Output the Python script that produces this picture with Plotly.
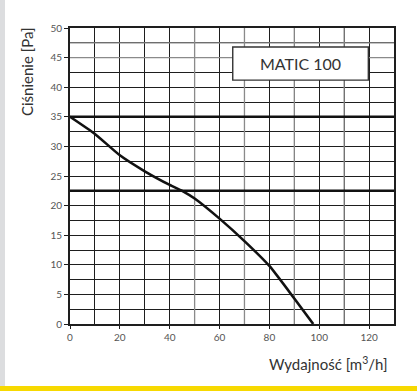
import plotly.graph_objects as go

# Data
flow = [0, 10, 20, 30, 40, 45, 50, 60, 70, 80, 90, 97.6]
pressure = [35, 32.1, 28.5, 25.8, 23.5, 22.5, 21.2, 17.8, 14.0, 9.8, 4.3, 0]

x_ticks = [0, 20, 40, 60, 80, 100, 120]
y_ticks = [0, 5, 10, 15, 20, 25, 30, 35, 40, 45, 50]
gray_vlines = [50, 70, 90, 110]
gray_hlines = [47.5, 45]
thick_hlines = [35, 22.5]
label_box = dict(x0=65.3, x1=119.7, y0=41.2, y1=46.8, text="MATIC 100")

FONT = "Lato, 'Noto Sans', sans-serif"

fig = go.Figure()
fig.add_trace(go.Scatter(
    x=flow, y=pressure, mode="lines",
    line=dict(color="#111111", width=2.6, shape="spline", smoothing=0.5),
    hoverinfo="skip", showlegend=False))

shapes = []
for v in gray_vlines:
    shapes.append(dict(type="line", xref="x", yref="y", x0=v, x1=v, y0=0, y1=50,
                       line=dict(color="#8a8a8a", width=1.3), layer="between"))
for h in gray_hlines:
    shapes.append(dict(type="line", xref="x", yref="y", x0=0, x1=130, y0=h, y1=h,
                       line=dict(color="#8a8a8a", width=1.3), layer="between"))
for h in thick_hlines:
    shapes.append(dict(type="line", xref="x", yref="y", x0=0, x1=130, y0=h, y1=h,
                       line=dict(color="#111111", width=2.6), layer="between"))
# label box
shapes.append(dict(type="rect", xref="x", yref="y",
                   x0=label_box["x0"], x1=label_box["x1"],
                   y0=label_box["y0"], y1=label_box["y1"],
                   fillcolor="white", line=dict(color="#333333", width=1.4), layer="above"))
# page decorations: gray left strip and yellow bottom band
PW, PH = 324.0, 296.0
shapes.append(dict(type="rect", xref="paper", yref="paper", x0=-70/PW, x1=-65/PW,
                   y0=-62/PH, y1=1 + 30/PH,
                   fillcolor="#dcdddf", line=dict(width=0), layer="below"))
shapes.append(dict(type="rect", xref="paper", yref="paper", x0=-70/PW, x1=1 + 25/PW,
                   y0=-68/PH, y1=-62/PH,
                   fillcolor="#f7d900", line=dict(width=0), layer="below"))

fig.update_layout(
    width=417, height=391,
    margin=dict(l=70, r=23, t=28, b=67),
    paper_bgcolor="white", plot_bgcolor="white",
    shapes=shapes,
    font=dict(family=FONT, color="#444444", size=10),
    xaxis=dict(range=[0, 130], tickvals=x_ticks, showgrid=True,
               gridcolor="#1e1e1e", gridwidth=1.3, zeroline=False,
               showline=True, linecolor="#1e1e1e", linewidth=2, mirror=True,
               ticks="outside", ticklen=3, tickcolor="#1e1e1e",
               tickfont=dict(size=10, color="#555555", family=FONT), fixedrange=True,
               minor=dict(dtick=10, tick0=0, showgrid=True, gridcolor="#1e1e1e",
                          gridwidth=1.3, ticks="")),
    yaxis=dict(range=[0, 50], tickvals=y_ticks, showgrid=True,
               gridcolor="#1e1e1e", gridwidth=1.3, zeroline=False,
               showline=True, linecolor="#1e1e1e", linewidth=2, mirror=True,
               ticks="outside", ticklen=4, tickcolor="#1e1e1e",
               tickfont=dict(size=10, color="#555555", family=FONT), fixedrange=True,
               minor=dict(dtick=2.5, tick0=0, showgrid=True, gridcolor="#1e1e1e",
                          gridwidth=1.3, ticks="")),
    annotations=[
        dict(xref="x", yref="y", x=(label_box["x0"] + label_box["x1"]) / 2,
             y=(label_box["y0"] + label_box["y1"]) / 2, text=label_box["text"],
             showarrow=False, font=dict(size=16, color="#333333", family=FONT)),
        dict(xref="paper", yref="paper", x=-43/PW, y=(324-72)/PH,
             text="Ciśnienie [Pa]", textangle=-90, showarrow=False,
             xanchor="center", yanchor="middle",
             font=dict(size=15, color="#333333", family=FONT)),
        dict(xref="paper", yref="paper", x=1 - 4/PW, y=-39/PH,
             text="Wydajność [m<sup>3</sup>/h]", showarrow=False,
             xanchor="right", yanchor="middle",
             font=dict(size=15, color="#333333", family=FONT)),
    ],
)

fig.write_html("out.html", config={"displayModeBar": False},
               post_script="document.body.style.margin='0';")
